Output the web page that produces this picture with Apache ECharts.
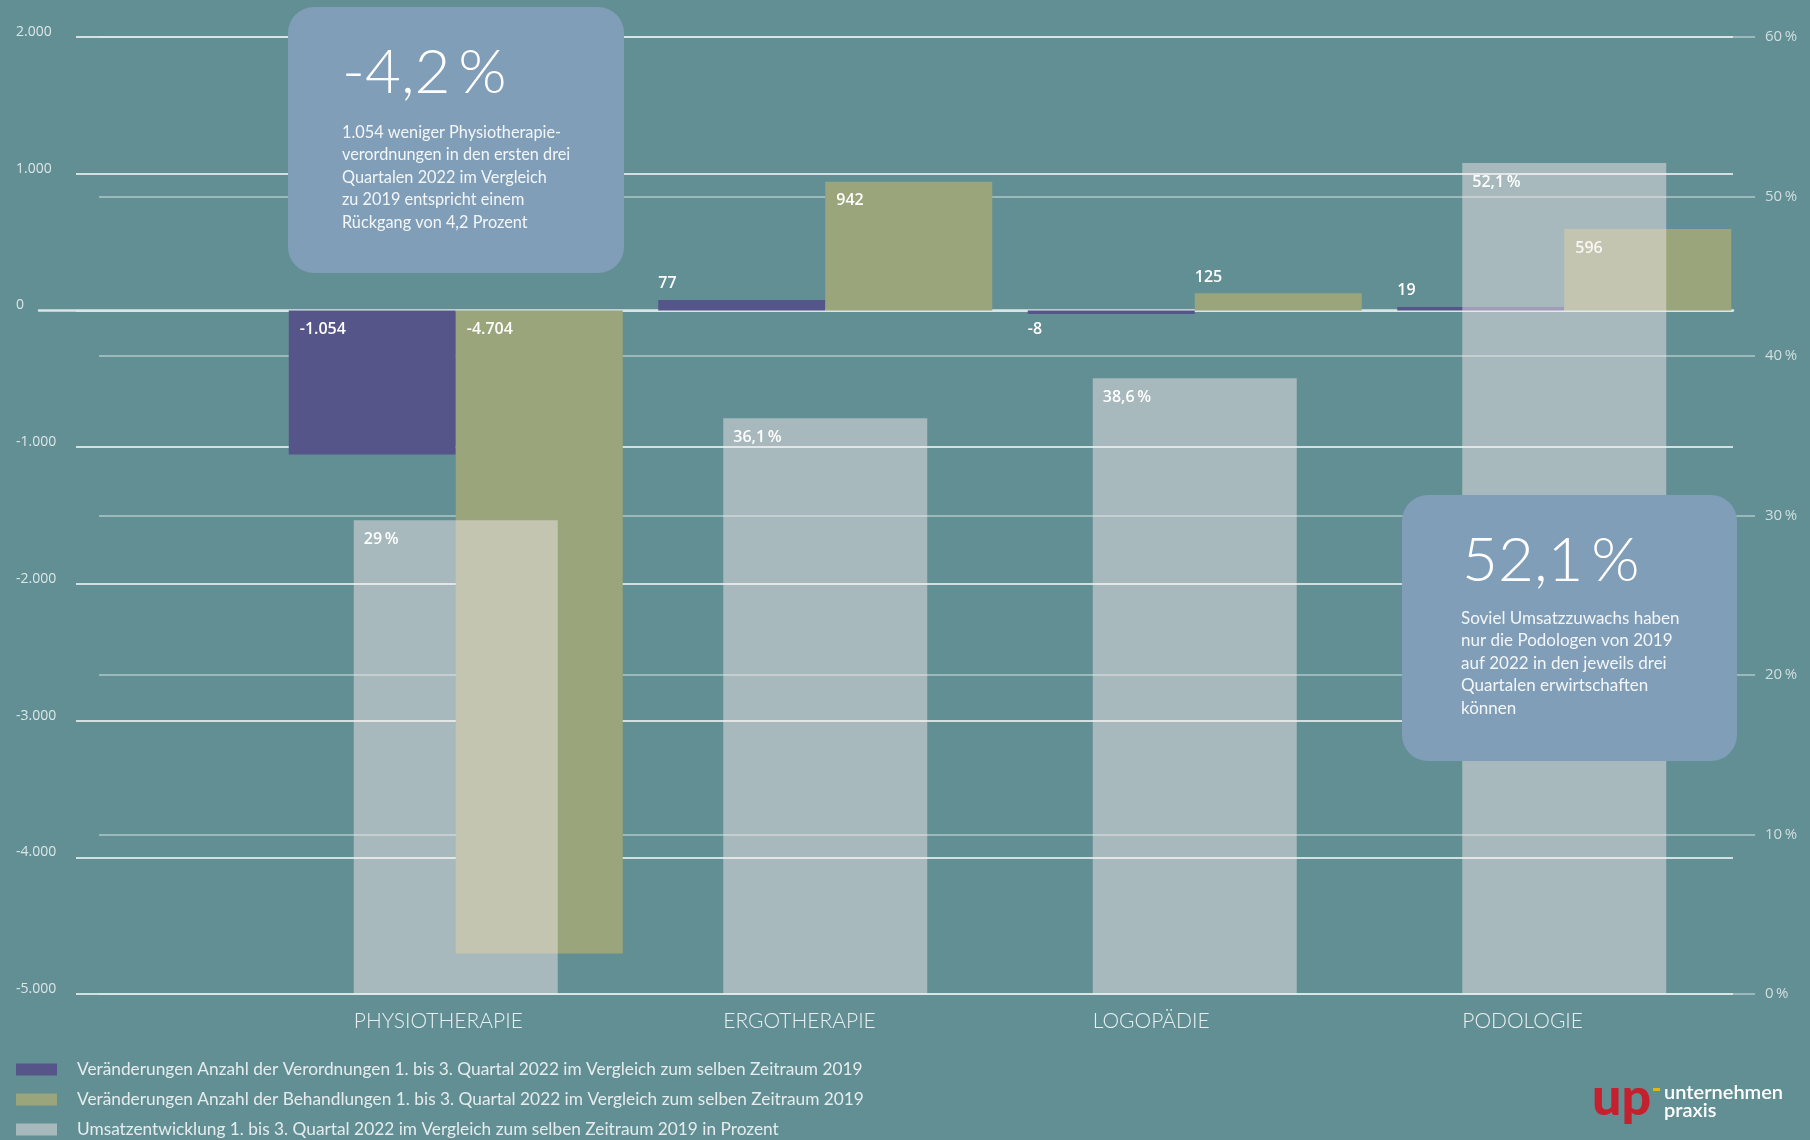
<!DOCTYPE html>
<html>
<head>
<meta charset="utf-8">
<script src="https://cdn.jsdelivr.net/npm/echarts@6/dist/echarts.min.js"></script>
<style>
  html, body { margin: 0; padding: 0; background: #628f94; }
  #main { width: 1810px; height: 1140px; }
</style>
</head>
<body>
<div id="main"></div>
<script>
// Daten
var categories = ['PHYSIOTHERAPIE', 'ERGOTHERAPIE', 'LOGOPÄDIE', 'PODOLOGIE'];
var verordnungen = [-1054, 77, -8, 19];
var behandlungen = [-4704, 942, 125, 596];
// Balkenhoehe wie gezeichnet, Beschriftung wie gedruckt
var umsatz = [29.7, 36.1, 38.6, 52.1];
var umsatzLabels = ['29', '36,1', '38,6', '52,1'];

var seriesNames = [
    'Veränderungen Anzahl der Verordnungen 1. bis 3. Quartal 2022 im Vergleich zum selben Zeitraum 2019',
    'Veränderungen Anzahl der Behandlungen 1. bis 3. Quartal 2022 im Vergleich zum selben Zeitraum 2019',
    'Umsatzentwicklung 1. bis 3. Quartal 2022 im Vergleich zum selben Zeitraum 2019 in Prozent'
];

var mychart = echarts.init(document.getElementById('main'));

var FONT = 'Lato, "Open Sans", sans-serif';
var TOP = 37, BOTTOM = 146;

// 1.054 statt 1054
function fmt(v) {
    var s = String(Math.abs(v)).replace(/\B(?=(\d{3})+(?!\d))/g, '.');
    return (v < 0 ? '-' : '') + s;
}

var labelBase = {
    show: true,
    color: '#ffffff',
    fontFamily: '"Open Sans", sans-serif',
    fontWeight: 600,
    fontSize: 16
};

// kleine Balken: Label ausserhalb
function barData(arr) {
    return arr.map(function (v) {
        var pos;
        if (Math.abs(v) > 300) pos = [11, 11];
        else if (v >= 0) pos = [0, -24];
        else pos = [0, 11];
        return { value: v, label: { position: pos } };
    });
}

option = {
    backgroundColor: '#628f94',
    animation: false,
    grid: [
        { left: 76, right: 77, top: TOP, bottom: BOTTOM },   // linke Gitterlinien
        { left: 99, right: 55, top: TOP, bottom: BOTTOM },   // rechte Gitterlinien
        { left: 271, right: 61, top: TOP, bottom: BOTTOM },  // Balken
        { left: 39, right: 77, top: TOP, bottom: BOTTOM }    // Nulllinie
    ],
    legend: {
        orient: 'vertical',
        left: 16,
        top: 1060,
        height: 120,
        padding: 0,
        itemWidth: 41,
        itemHeight: 12,
        itemGap: 11,
        icon: 'rect',
        selectedMode: false,
        textStyle: {
            color: '#e6eced',
            fontFamily: FONT,
            fontSize: 17.3,
            lineHeight: 19,
            padding: [0, 0, 0, 15]
        },
        data: seriesNames
    },
    xAxis: [
        { gridIndex: 0, type: 'value', min: 0, max: 1, show: false },
        { gridIndex: 1, type: 'value', min: 0, max: 1, show: false },
        {
            gridIndex: 2, type: 'category', data: categories,
            axisLine: { show: false }, axisTick: { show: false },
            axisLabel: {
                margin: 17,
                align: 'center',
                formatter: function (v) { return '{a|' + v + '}'; },
                rich: {
                    a: {
                        width: 204, align: 'left',
                        color: '#e9eff0', fontFamily: FONT, fontWeight: 300, fontSize: 21
                    }
                }
            }
        },
        { gridIndex: 2, type: 'category', data: categories, show: false },
        {
            gridIndex: 3, type: 'value', min: 0, max: 1,
            axisLine: { show: true, onZero: true, lineStyle: { color: '#dbe5e6', width: 2.5 } },
            axisTick: { show: false }, axisLabel: { show: false }, splitLine: { show: false }
        }
    ],
    yAxis: [
        {
            gridIndex: 0, type: 'value', min: -5000, max: 2000, interval: 1000,
            axisLine: { show: false }, axisTick: { show: false },
            splitLine: { lineStyle: { color: 'rgba(232,239,240,0.85)', width: 2 } },
            axisLabel: {
                align: 'left', margin: 60,
                verticalAlign: 'bottom', lineHeight: 10,
                color: '#dde6e7', fontFamily: '"Open Sans", sans-serif', fontSize: 14,
                formatter: fmt
            }
        },
        {
            gridIndex: 1, type: 'value', position: 'right', min: 0, max: 60, interval: 10,
            axisLine: { show: false }, axisTick: { show: false },
            splitLine: { lineStyle: { color: 'rgba(225,234,235,0.6)', width: 1.5 } },
            axisLabel: {
                margin: 10,
                color: '#d2dee0', fontFamily: '"Open Sans", sans-serif', fontSize: 15,
                formatter: function (v) { return v + '\u2009%'; }
            }
        },
        { gridIndex: 2, type: 'value', min: -5000, max: 2000, show: false, splitLine: { show: false } },
        { gridIndex: 2, type: 'value', min: 0, max: 60, show: false, splitLine: { show: false } },
        { gridIndex: 3, type: 'value', min: -5000, max: 2000, show: false, splitLine: { show: false } }
    ],
    series: [
        {
            name: seriesNames[0],
            type: 'bar',
            xAxisIndex: 2, yAxisIndex: 2,
            barWidth: 167, barGap: '0%',
            barMinHeight: 3.5,
            itemStyle: { color: '#56558a' },
            label: Object.assign({}, labelBase, { formatter: function (p) { return fmt(p.value); } }),
            data: barData(verordnungen),
            z: 3
        },
        {
            name: seriesNames[1],
            type: 'bar',
            xAxisIndex: 2, yAxisIndex: 2,
            barWidth: 167, barGap: '0%',
            itemStyle: { color: '#9aa57b' },
            label: Object.assign({}, labelBase, { formatter: function (p) { return fmt(p.value); } }),
            data: barData(behandlungen),
            z: 3
        },
        {
            name: seriesNames[2],
            type: 'bar',
            xAxisIndex: 3, yAxisIndex: 3,
            barWidth: 204,
            itemStyle: { color: 'rgba(245,233,236,0.47)' },
            label: Object.assign({}, labelBase, {
                position: [10, 11],
                formatter: function (p) { return umsatzLabels[p.dataIndex] + '\u2009%'; }
            }),
            data: umsatz,
            z: 4
        }
    ],
    graphic: [
        // Infobox links
        {
            type: 'rect', z: 100,
            shape: { x: 288, y: 7, width: 336, height: 266, r: 26 },
            style: { fill: '#809eb7' }
        },
        {
            type: 'text', z: 101, x: 342, y: 73,
            style: {
                text: '-4,2\u2009%', fill: '#ffffff', font: '300 62px ' + FONT,
                verticalAlign: 'middle'
            }
        },
        {
            type: 'text', z: 101, x: 342, y: 121,
            style: {
                text: '1.054 weniger Physiotherapie-\nverordnungen in den ersten drei\nQuartalen 2022 im Vergleich\nzu 2019 entspricht einem\nRückgang von 4,2 Prozent',
                fill: '#f3f6f8', font: '16.3px ' + FONT, lineHeight: 22.5,
                verticalAlign: 'top'
            }
        },
        // Infobox rechts
        {
            type: 'rect', z: 100,
            shape: { x: 1402, y: 495, width: 335, height: 266, r: 26 },
            style: { fill: '#809eb7' }
        },
        {
            type: 'text', z: 101, x: 1462, y: 561,
            style: {
                text: '52,1\u2009%', fill: '#ffffff', font: '300 62px ' + FONT,
                verticalAlign: 'middle'
            }
        },
        {
            type: 'text', z: 101, x: 1461, y: 607,
            style: {
                text: 'Soviel Umsatzzuwachs haben\nnur die Podologen von 2019\nauf 2022 in den jeweils drei\nQuartalen erwirtschaften\nkönnen',
                fill: '#f3f6f8', font: '17px ' + FONT, lineHeight: 22.5,
                verticalAlign: 'top'
            }
        },
        // Logo
        {
            type: 'text', z: 101, x: 1592, y: 1124,
            style: { text: 'up', fill: '#c4202e', font: '900 52px ' + FONT, verticalAlign: 'bottom' }
        },
        {
            type: 'rect', z: 101,
            shape: { x: 1653, y: 1088, width: 7, height: 3 },
            style: { fill: '#e8b21c' }
        },
        {
            type: 'text', z: 101, x: 1664, y: 1093,
            style: { text: 'unternehmen', fill: '#ffffff', font: '600 20px ' + FONT, verticalAlign: 'middle' }
        },
        {
            type: 'text', z: 101, x: 1664, y: 1111,
            style: { text: 'praxis', fill: '#ffffff', font: '600 20px ' + FONT, verticalAlign: 'middle' }
        }
    ]
};
mychart.setOption(option);
</script>
</body>
</html>
